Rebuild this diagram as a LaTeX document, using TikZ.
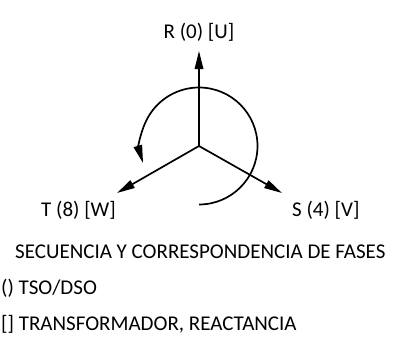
\documentclass[tikz,border=0pt]{standalone}
\usepackage{fontspec}
\setmainfont{Carlito}
\usetikzlibrary{arrows.meta,positioning}

\tikzset{
	phase/.style={-{Triangle[length=18pt,width=8.5pt]},line width=1.7pt},
	lbl/.style={inner sep=0pt,font=\fontsize{21}{24}\selectfont}
}

\begin{document}
\begin{tikzpicture}[x=1pt,y=-1pt]
		
		\useasboundingbox (0,0) rectangle (400,343);
		
		\coordinate (o) at (199,146);
		\coordinate (r) at (199,51);
		\coordinate (t) at (117,193);
		\coordinate (s) at (282,193);
		
		\draw[phase] (o) -- (r);
		\draw[phase] (o) -- (t);
		\draw[phase] (o) -- (s);
		
		% sentido de giro
		\draw[phase] ([yshift=-58.5pt]o) arc[start angle=-90,end angle=197,radius=58.5pt];
		
		\node[lbl,anchor=base] (rlbl) at (199,38) {R (0) [U]};
		\node[lbl,anchor=base west] (tlbl) at (41,216.5) {T (8) [W]};
		\node[lbl,anchor=base west] (slbl) at (292,216) {S (4) [V]};
		
		\node[lbl,anchor=base west] (title) at (15,258) {SECUENCIA Y CORRESPONDENCIA DE FASES};
		\node[lbl,anchor=base west] (tso) at (1,294.5) {() TSO/DSO};
		\node[lbl,anchor=base west] (trafo) at (1,330) {[] TRANSFORMADOR, REACTANCIA};
		
	\end{tikzpicture}
\end{document}
